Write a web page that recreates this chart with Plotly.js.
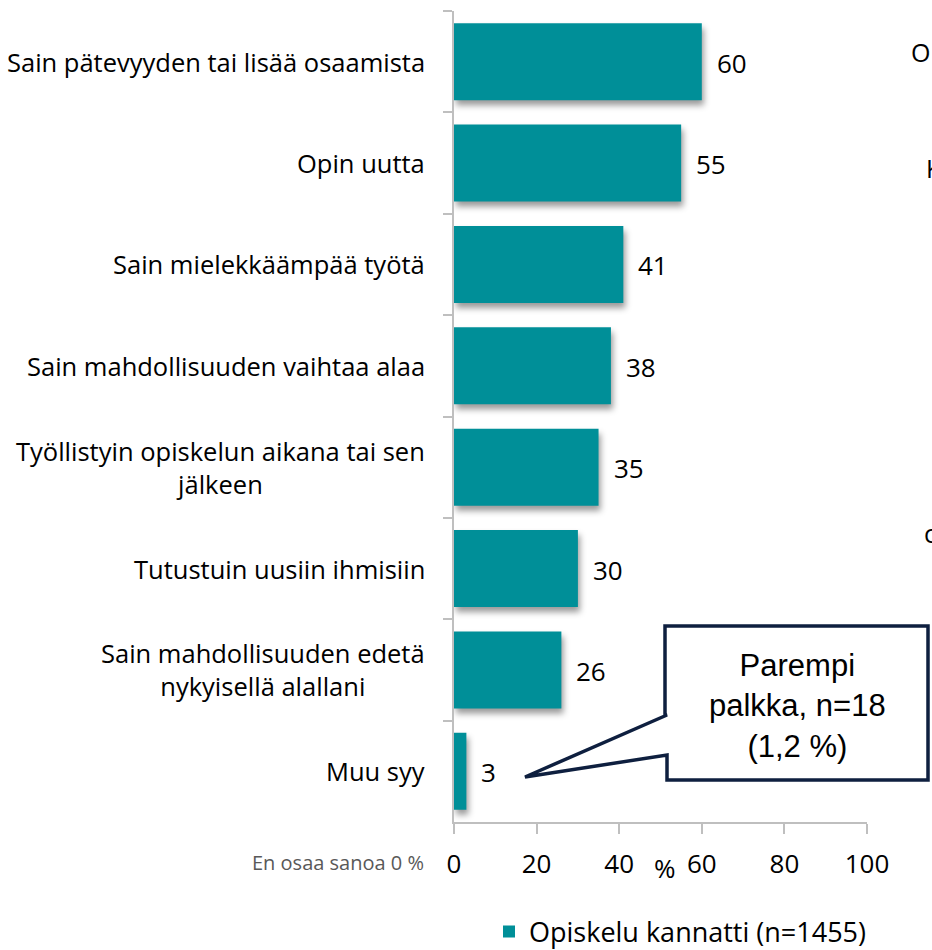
<!DOCTYPE html>
<html>
<head>
<meta charset="utf-8">
<script src="https://cdn.plot.ly/plotly-3.0.1.min.js"></script>
<style>
  html, body { margin: 0; padding: 0; background: #fff; }
  #chart { width: 932px; height: 950px; }
  /* soft shadow under the bars, like the original office chart */
  #chart .trace.bars .point path { filter: drop-shadow(2px 5px 3px rgba(0,0,0,0.4)); }
</style>
</head>
<body>
<div id="chart"></div>
<script>
// Data
const categories = [
    'Sain pätevyyden tai lisää osaamista',
    'Opin uutta',
    'Sain mielekkäämpää työtä',
    'Sain mahdollisuuden vaihtaa alaa',
    'Työllistyin opiskelun aikana tai sen<br>jälkeen',
    'Tutustuin uusiin ihmisiin',
    'Sain mahdollisuuden edetä<br>nykyisellä alallani',
    'Muu syy'
];
const values = [60, 55, 41, 38, 35, 30, 26, 3];
const seriesName = 'Opiskelu kannatti (n=1455)';
const xTicks = [0, 20, 40, 60, 80, 100];
const calloutLines = ['Parempi', 'palkka, n=18', '(1,2 %)'];

const teal = '#008F98';
const navy = '#0E1F3F';
const axisGrey = '#BFBFBF';
const bodyFont = "'Open Sans', 'Noto Sans', sans-serif";

// plot area in pixels (used to place the free-standing decorations)
const W = 932, H = 950;
const M = { l: 454, r: 65, t: 11, b: 128, autoexpand: false };
const pw = W - M.l - M.r;
const ph = H - M.t - M.b;
const px = x => (x - M.l) / pw;
const py = y => (H - M.b - y) / ph;

const trace = {
    type: 'bar',
    orientation: 'h',
    name: seriesName,
    x: values,
    y: categories,
    marker: { color: teal },
    showlegend: true,
    hoverinfo: 'x+y'
};

const annotations = [];

// category labels (centred multi-line, to the left of the axis)
categories.forEach(c => {
    annotations.push({
        text: c, x: 0, xref: 'paper', y: c, yref: 'y',
        xanchor: 'right', yanchor: 'middle', xshift: -27,
        align: 'center', showarrow: false,
        font: { family: bodyFont, size: 25.5, color: '#000' }
    });
});

// value labels at the bar ends
values.forEach((v, i) => {
    annotations.push({
        text: String(v), x: v, xref: 'x', y: categories[i], yref: 'y',
        xanchor: 'left', yanchor: 'middle', xshift: 13, yshift: -1,
        showarrow: false,
        font: { family: bodyFont, size: 26, color: '#000' }
    });
});

// axis unit, the "don't know" note and cut-off letters at the right edge
annotations.push(
    { text: '%', x: px(665), xref: 'paper', y: py(868), yref: 'paper', yanchor: 'middle',
      showarrow: false, font: { family: bodyFont, size: 26, color: '#000' } },
    { text: 'En osaa sanoa 0 %', x: px(426), xref: 'paper', y: py(862), yref: 'paper',
      xanchor: 'right', yanchor: 'middle', showarrow: false,
      font: { family: bodyFont, size: 20, color: '#595959' } },
    { text: 'O', x: px(909), xref: 'paper', y: py(52), yref: 'paper', xanchor: 'left', yanchor: 'middle',
      showarrow: false, font: { family: bodyFont, size: 25, color: '#000' } },
    { text: 'K', x: px(924), xref: 'paper', y: py(168), yref: 'paper', xanchor: 'left', yanchor: 'middle',
      showarrow: false, font: { family: bodyFont, size: 25, color: '#000' } },
    { text: 'c', x: px(922), xref: 'paper', y: py(533), yref: 'paper', xanchor: 'left', yanchor: 'middle',
      showarrow: false, font: { family: bodyFont, size: 25, color: '#000' } },
    { text: calloutLines.join('<br>'), x: px(797), xref: 'paper', y: py(706), yref: 'paper',
      xanchor: 'center', yanchor: 'middle', align: 'center', showarrow: false,
      font: { family: "'Liberation Sans', Arial, sans-serif", size: 31, color: '#000' } }
);

// speech-bubble outline for the callout
const bubble = [
    [665, 626], [928, 626], [928, 780], [667, 780], [667, 755],
    [525, 777], [667, 715], [665, 715]
];
const bubblePath = 'M' + bubble.map(p => px(p[0]) + ',' + py(p[1])).join('L') + 'Z';

const layout = {
    width: W,
    height: H,
    margin: M,
    paper_bgcolor: '#fff',
    plot_bgcolor: '#fff',
    font: { family: bodyFont, color: '#000' },
    bargap: 0.24,
    xaxis: {
        range: [0, 100],
        tickvals: xTicks,
        ticktext: xTicks.map(String),
        showgrid: false,
        zeroline: false,
        showline: true,
        linecolor: axisGrey,
        linewidth: 1.5,
        ticks: 'outside',
        ticklen: 10,
        tickcolor: axisGrey,
        tickwidth: 1.5,
        ticklabelstandoff: 8,
        tickfont: { family: bodyFont, size: 26, color: '#000' },
        fixedrange: true
    },
    yaxis: {
        type: 'category',
        autorange: 'reversed',
        showgrid: false,
        zeroline: false,
        showline: true,
        linecolor: axisGrey,
        linewidth: 1.5,
        ticks: 'outside',
        tickson: 'boundaries',
        ticklen: 9,
        tickcolor: axisGrey,
        tickwidth: 1.5,
        showticklabels: false,
        fixedrange: true
    },
    legend: {
        orientation: 'h',
        x: px(489), xanchor: 'left',
        y: py(932), yanchor: 'middle',
        font: { family: bodyFont, size: 27, color: '#000' },
        bgcolor: 'rgba(0,0,0,0)'
    },
    shapes: [{
        type: 'path', xref: 'paper', yref: 'paper',
        path: bubblePath,
        line: { color: navy, width: 3.5 },
        fillcolor: '#fff',
        layer: 'above'
    }],
    annotations: annotations
};

Plotly.newPlot('chart', [trace], layout, { displayModeBar: false, responsive: false });
</script>
</body>
</html>
